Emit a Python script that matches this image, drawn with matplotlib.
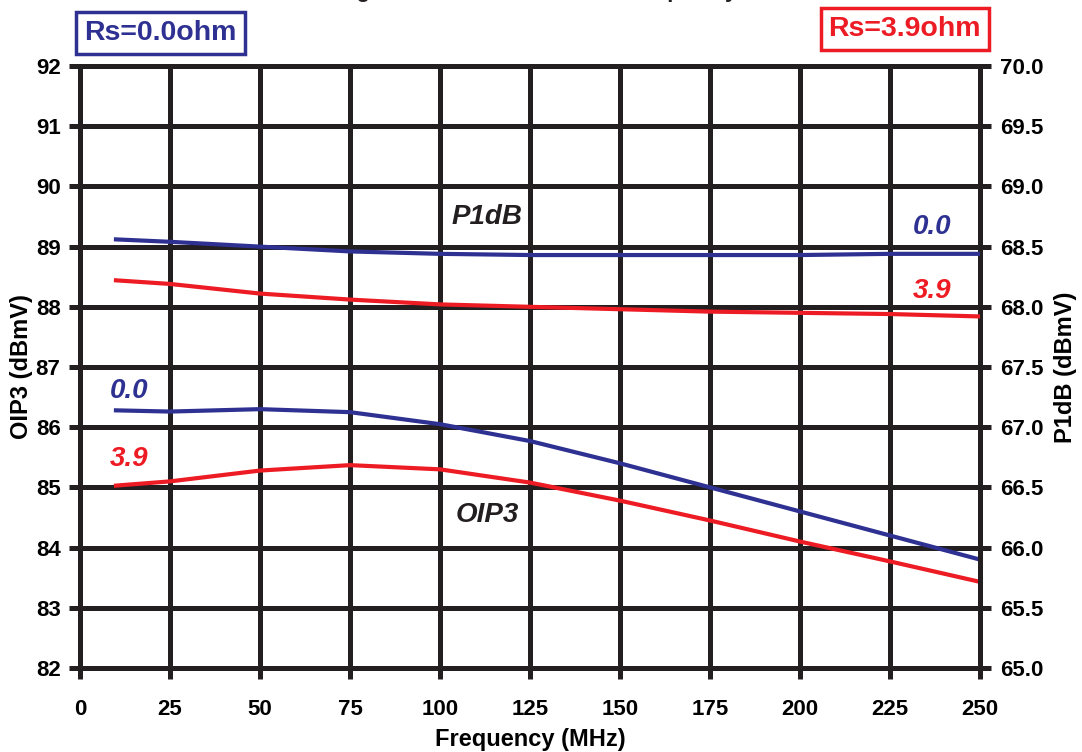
import numpy as np
import matplotlib
matplotlib.use('Agg')
import matplotlib.pyplot as plt

plt.rcParams['font.family'] = ['Liberation Sans', 'DejaVu Sans']
plt.rcParams['font.weight'] = 'bold'

# 数据
freq = [10, 25, 50, 75, 100, 125, 150, 175, 200, 225, 250]
oip3_rs0 = [86.28, 86.26, 86.30, 86.25, 86.05, 85.77, 85.40, 85.00, 84.60, 84.20, 83.80]
oip3_rs39 = [85.03, 85.10, 85.28, 85.37, 85.30, 85.08, 84.78, 84.45, 84.10, 83.77, 83.43]
p1db_rs0 = [68.56, 68.54, 68.50, 68.46, 68.44, 68.43, 68.43, 68.43, 68.43, 68.44, 68.44]
p1db_rs39 = [68.22, 68.19, 68.11, 68.06, 68.02, 68.00, 67.98, 67.96, 67.95, 67.94, 67.92]

x_ticks = [0, 25, 50, 75, 100, 125, 150, 175, 200, 225, 250]
left_ticks = [82, 83, 84, 85, 86, 87, 88, 89, 90, 91, 92]
right_ticks = [65.0, 65.5, 66.0, 66.5, 67.0, 67.5, 68.0, 68.5, 69.0, 69.5, 70.0]

BLUE = '#2E3192'
RED = '#ED1C24'
BLACK = '#231F20'
LW_GRID = 3.6
LW_LINE = 3.0

fig = plt.figure(figsize=(10.82, 7.52), dpi=100)
ax = fig.add_axes([0.0739, 0.1117, 0.832, 0.8005])
ax2 = ax.twinx()

ax.set_xlim(0, 250)
ax.set_ylim(82, 92)
ax2.set_ylim(65, 70)
ax.set_xticks(x_ticks)
ax.set_yticks(left_ticks)
ax2.set_yticks(right_ticks)
ax2.set_yticklabels(['%.1f' % v for v in right_ticks])

ax.grid(True, color=BLACK, linewidth=LW_GRID)
ax.set_axisbelow(True)
for a in (ax, ax2):
    for s in a.spines.values():
        s.set_linewidth(LW_GRID)
        s.set_color(BLACK)
ax.tick_params(axis='both', direction='out', length=8, width=LW_GRID, color=BLACK,
               labelsize=16, pad=6)
ax.tick_params(axis='x', pad=14)
ax2.tick_params(axis='y', direction='out', length=8, width=LW_GRID, color=BLACK,
                labelsize=16, pad=6)

# OIP3 (左轴)
ax.plot(freq, oip3_rs0, color=BLUE, linewidth=LW_LINE, zorder=3)
ax.plot(freq, oip3_rs39, color=RED, linewidth=LW_LINE, zorder=3)
# P1dB (右轴)
ax2.plot(freq, p1db_rs0, color=BLUE, linewidth=LW_LINE, zorder=3)
ax2.plot(freq, p1db_rs39, color=RED, linewidth=LW_LINE, zorder=3)

ax.set_xlabel('Frequency (MHz)', fontsize=17, fontweight='bold', labelpad=6)
ax.set_ylabel('OIP3 (dBmV)', fontsize=17, fontweight='bold', labelpad=2)
ax2.set_ylabel('P1dB (dBmV)', fontsize=17, fontweight='bold', labelpad=8)

lab = dict(fontsize=20, fontweight='bold', fontstyle='italic', ha='center', va='center')
ax.text(113, 89.49, 'P1dB', color=BLACK, **lab)
ax.text(113, 84.54, 'OIP3', color=BLACK, **lab)
ax.text(236.7, 89.33, '0.0', color=BLUE, **lab)
ax.text(236.7, 88.26, '3.9', color=RED, **lab)
ax.text(13.6, 86.6, '0.0', color=BLUE, **lab)
ax.text(13.6, 85.47, '3.9', color=RED, **lab)

# 图例框
fig.text(0.0739 + 0.004, 0.956, 'Rs=0.0ohm', color=BLUE, fontsize=20.5, fontweight='bold',
         ha='left', va='center',
         bbox=dict(boxstyle='square,pad=0.28', fc='white', ec=BLUE, lw=2.5))
fig.text(0.9057 + 0.001, 0.962, 'Rs=3.9ohm', color=RED, fontsize=20.5, fontweight='bold',
         ha='right', va='center',
         bbox=dict(boxstyle='square,pad=0.28', fc='white', ec=RED, lw=2.5))

# 标题 (原图被裁切, 只剩下降部)
fig.text(0.49, 1.0 + 3 / 752, 'Single Tone Performance vs Frequency', fontsize=16,
         fontweight='bold', ha='center', va='baseline', color=BLACK)

fig.savefig('out.png', dpi=100)
